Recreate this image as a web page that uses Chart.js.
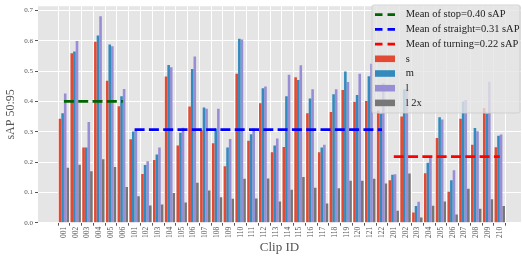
<!DOCTYPE html>
<html><head><meta charset="utf-8">
<script src="https://cdn.jsdelivr.net/npm/chart.js@4/dist/chart.umd.min.js"></script>
<style>html,body{margin:0;padding:0;background:#fff;}#wrap{width:522px;height:259px;}</style>
</head><body><div id="wrap"><canvas id="c" width="522" height="259"></canvas></div>
<script>
const clips = ['001','002','003','004','005','006',
  '101','102','103','104','105','106','107','108','109','110','111','112','113','114','115','116','117','118','119','120','121','122',
  '201','202','203','204','205','206','207','208','209','210'];
const sVals = [0.343,0.559,0.248,0.597,0.468,0.384,
  0.275,0.161,0.207,0.482,0.255,0.383,0.305,0.262,0.186,0.491,0.270,0.394,0.232,0.250,0.480,0.361,0.232,0.365,0.438,0.399,0.401,0.370,
  0.140,0.350,0.034,0.163,0.279,0.102,0.343,0.257,0.378,0.249];
const mVals = [0.361,0.565,0.248,0.617,0.588,0.417,
  0.301,0.190,0.225,0.520,0.297,0.507,0.380,0.311,0.248,0.607,0.292,0.443,0.255,0.417,0.471,0.410,0.248,0.424,0.499,0.421,0.483,0.360,
  0.158,0.440,0.055,0.198,0.348,0.140,0.400,0.312,0.360,0.287];
const lVals = [0.426,0.599,0.332,0.681,0.582,0.441,
  0.305,0.203,0.248,0.513,0.313,0.548,0.376,0.376,0.276,0.604,0.311,0.449,0.278,0.488,0.519,0.440,0.257,0.440,0.464,0.491,0.524,0.460,
  0.160,0.440,0.069,0.214,0.340,0.173,0.405,0.302,0.465,0.291];
const l2xVals = [0.181,0.191,0.170,0.209,0.184,0.118,
  0.087,0.057,0.060,0.098,0.067,0.132,0.106,0.084,0.079,0.145,0.080,0.146,0.070,0.109,0.151,0.115,0.063,0.114,0.138,0.138,0.145,0.129,
  0.039,0.162,0.017,0.056,0.070,0.027,0.112,0.046,0.077,0.055];
const meanNames = ['Mean of stop=0.40 sAP','Mean of straight=0.31 sAP','Mean of turning=0.22 sAP'];
const meanValues = [0.400, 0.307, 0.218];
const meanFirstClip = ['001','101','201'];
const meanLastClip = ['006','122','210'];
const seriesNames = ['s','m','l','l 2x'];
const yTicks = [0.0,0.1,0.2,0.3,0.4,0.5,0.6,0.7];

const FAM = "'Liberation Serif','DejaVu Serif',serif";
const barColors = ['#E24A33','#348ABD','#988ED5','#777777'];
const meanColors = ['#006400','#0000FF','#FF0000'];

const seriesVals = [sVals, mVals, lVals, l2xVals];
const datasets = [];
meanValues.forEach((v, k) => {
  const a = clips.indexOf(meanFirstClip[k]), b = clips.indexOf(meanLastClip[k]);
  datasets.push({type:'line', label: meanNames[k], data:[{x:a,y:v},{x:b,y:v}],
    borderColor: meanColors[k], borderWidth: 2.7, borderDash:[10,4.3], pointRadius:0, fill:false, order:0});
});
seriesVals.forEach((arr, k) => {
  datasets.push({type:'bar', label: seriesNames[k], data: arr.map((v,i)=>({x:i,y:v})),
    backgroundColor: barColors[k], borderWidth:0, categoryPercentage:0.88, barPercentage:1.0, order:1});
});

const bgPlugin = {id:'bg', beforeDraw(chart){
  const {ctx, chartArea:a} = chart;
  ctx.save(); ctx.fillStyle = '#E5E5E5'; ctx.fillRect(a.left, a.top, a.right-a.left, a.bottom-a.top); ctx.restore();
}};
const legendPlugin = {id:'lg', afterDraw(chart){
  const ctx = chart.ctx;
  ctx.save();
  const x0 = 372, y0 = 5, w = 148, h = 108;
  ctx.beginPath();
  if (ctx.roundRect) ctx.roundRect(x0, y0, w, h, 2); else ctx.rect(x0,y0,w,h);
  ctx.fillStyle = 'rgba(229,229,229,0.8)'; ctx.fill();
  ctx.strokeStyle = 'rgba(204,204,204,0.8)'; ctx.lineWidth = 1; ctx.stroke();
  const rowY = k => 14.7 + 14.7*k;
  ctx.font = "10.5px " + FAM; ctx.textBaseline = 'middle'; ctx.fillStyle = '#222';
  meanNames.forEach((n,k) => {
    const y = rowY(k);
    ctx.beginPath(); ctx.setLineDash([7.5,5]); ctx.lineWidth = 2.7; ctx.strokeStyle = meanColors[k];
    ctx.moveTo(375, y); ctx.lineTo(395, y); ctx.stroke(); ctx.setLineDash([]);
    ctx.fillStyle = '#222'; ctx.fillText(n, 405.7, y);
  });
  seriesNames.forEach((n,k) => {
    const y = rowY(k+3);
    ctx.fillStyle = barColors[k]; ctx.fillRect(375, y-3.3, 20, 6.6);
    ctx.fillStyle = '#222'; ctx.fillText(n, 405.7, y);
  });
  ctx.restore();
}};

new Chart(document.getElementById('c'), {
  type:'bar',
  data:{datasets},
  options:{
    responsive:false, devicePixelRatio:1, animation:false,
    layout:{padding:{top:2,right:1,left:0,bottom:0}},
    plugins:{legend:{display:false}, tooltip:{enabled:false}},
    scales:{
      x:{type:'linear', min:-2.2, max:38.8, offset:false,
        border:{display:false},
        grid:{color:'#FFFFFF', lineWidth:1, tickColor:'#555555', tickLength:3, drawTicks:true},
        afterBuildTicks(s){ s.ticks = clips.map((c,i)=>({value:i})); },
        ticks:{autoSkip:false, maxRotation:90, minRotation:90, padding:1, color:'#555555',
          font:{family:FAM, size:7.5}, callback:(v)=>clips[v]},
        title:{display:true, text:'Clip ID', color:'#555555', font:{family:FAM, size:13}, padding:{top:0,bottom:4}},
        afterFit(s){ s.height = 36.3; }
      },
      y:{min:0, max:0.714,
        border:{display:false},
        grid:{color:'#FFFFFF', lineWidth:1, tickColor:'#555555', tickLength:3, drawTicks:true},
        afterBuildTicks(s){ s.ticks = yTicks.map(v=>({value:v})); },
        ticks:{padding:2, color:'#555555', font:{family:FAM, size:7}, callback:(v)=>Number(v).toFixed(1)},
        title:{display:true, text:'sAP 50:95', color:'#555555', font:{family:FAM, size:12}, padding:{top:4,bottom:0}},
        afterFit(s){ s.width = 38; }
      }
    }
  },
  plugins:[bgPlugin, legendPlugin]
});
</script></body></html>
